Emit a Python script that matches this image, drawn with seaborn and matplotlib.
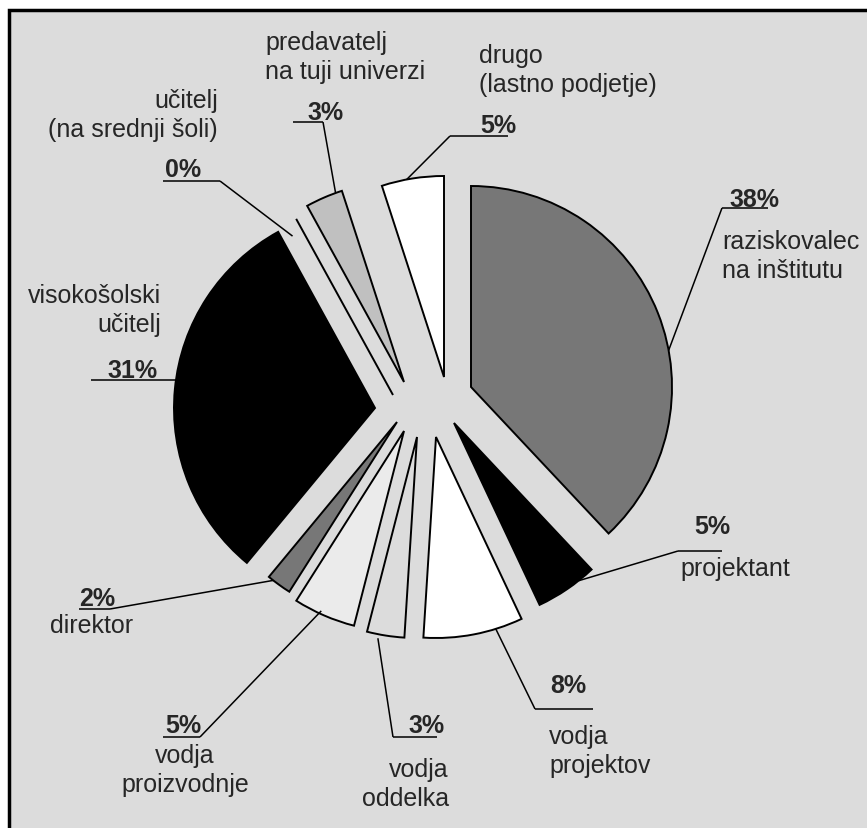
import numpy as np
import matplotlib
matplotlib.use("Agg")
import matplotlib.pyplot as plt
from matplotlib.patches import Rectangle
import seaborn as sns

# ---- data ----
categories = [
    "raziskovalec\nna inštitutu",
    "projektant",
    "vodja\nprojektov",
    "vodja\noddelka",
    "vodja\nproizvodnje",
    "direktor",
    "visokošolski\nučitelj",
    "učitelj\n(na srednji šoli)",
    "predavatelj\nna tuji univerzi",
    "drugo\n(lastno podjetje)",
]
shares = [38, 5, 8, 3, 5, 2, 31, 0, 3, 5]
pct_labels = [f"{v}%" for v in shares]

# ---- style ----
sns.set_theme(style="white")
plt.rcParams["font.family"] = ["Liberation Sans", "DejaVu Sans"]

slice_colors = ["#777777", "#000000", "#ffffff", "#dcdcdc", "#ebebeb",
                "#777777", "#000000", "#ffffff", "#c0c0c0", "#ffffff"]
panel_color = "#dcdcdc"
font_size = 18

# ---- layout (pixel units, y pointing down) ----
W, H = 867, 829
R = 201
pie_center = (425, 395)
# individual displacement of every slice away from the common centre
slice_shift = [(46, -7), (29, 29), (11, 43), (-8, 43), (-21, 37),
               (-28, 28), (-50, 14), (-32, 1), (-21, -12), (19, -17)]
# where each leader line touches its slice (clock angle, distance from tip)
anchor_clock = [79.5, 141.7, 162.7, 191, 204.7, 218, 278, 327.7, 340.1, 349.3]
anchor_dist = [R, R, R, R + 4, R - 3, R, R, R - 13, R, R]
# percent text, underline (x0, x1, y), leader joins underline at 'left'/'right'/None
label_layout = [
    dict(pct=(729, 207), under=(722, 768, 209), join="left", name=(722, 249), ha="left"),
    dict(pct=(694, 534), under=(678, 722, 552), join="left", name=(680, 576), ha="left"),
    dict(pct=(550, 693), under=(535, 593, 710), join="left", name=(549, 744), ha="left"),
    dict(pct=(408, 733), under=(393, 437, 738), join="left", name=(449, 777), ha="right"),
    dict(pct=(165, 733), under=(163, 200, 738), join="right", name=(185, 763), ha="center"),
    dict(pct=(79, 606), under=(79, 110, 610), join="right", name=(50, 633), ha="left"),
    dict(pct=(107, 378), under=(91, None, None), join=None, name=(161, 303), ha="right"),
    dict(pct=(165, 177), under=(163, 220, 182), join="right", name=(218, 108), ha="right"),
    dict(pct=(307, 120), under=(293, 323, 123), join="right", name=(265, 50), ha="left"),
    dict(pct=(480, 133), under=(450, 508, 137), join="left", name=(479, 63), ha="left"),
]
line_step = 29

fig = plt.figure(figsize=(W / 100, H / 100), dpi=100, facecolor="white")
ax = fig.add_axes([0, 0, 1, 1])

# framed grey panel
ax.add_patch(Rectangle((9, 11), 1000, 1000, facecolor=panel_color,
                       edgecolor="black", linewidth=2.5, zorder=0))

wedges, _ = ax.pie(
    shares,
    colors=slice_colors,
    startangle=-90,
    counterclock=True,
    radius=R,
    center=pie_center,
    wedgeprops=dict(edgecolor="black", linewidth=1.4, joinstyle="miter"),
)
for w, (dx, dy) in zip(wedges, slice_shift):
    w.set_center((pie_center[0] + dx, pie_center[1] + dy))
    w.set_zorder(2)

ax.set_xlim(0, W)
ax.set_ylim(H, 0)
ax.set_aspect("equal")
ax.axis("off")

line_kw = dict(color="black", linewidth=1.1, solid_capstyle="butt", zorder=3)

for w, ang, dist, pct, name, lay in zip(wedges, anchor_clock, anchor_dist,
                                        pct_labels, categories, label_layout):
    cx, cy = w.center
    a = np.deg2rad(ang)
    anchor = (cx + dist * np.sin(a), cy - dist * np.cos(a))

    x0, x1, uy = lay["under"]
    if lay["join"] is None:
        ax.plot([x0, anchor[0]], [anchor[1], anchor[1]], **line_kw)
    else:
        ax.plot([x0, x1], [uy, uy], **line_kw)
        jx = x0 if lay["join"] == "left" else x1
        ax.plot([anchor[0], jx], [anchor[1], uy], **line_kw)

    ax.text(lay["pct"][0], lay["pct"][1], pct, fontsize=font_size,
            fontweight="bold", ha="left", va="baseline", zorder=4)

    nx, ny = lay["name"]
    for k, line in enumerate(name.split("\n")):
        ax.text(nx, ny + k * line_step, line, fontsize=font_size,
                ha=lay["ha"], va="baseline", zorder=4)

fig.savefig("out.png", dpi=100, facecolor="white")
